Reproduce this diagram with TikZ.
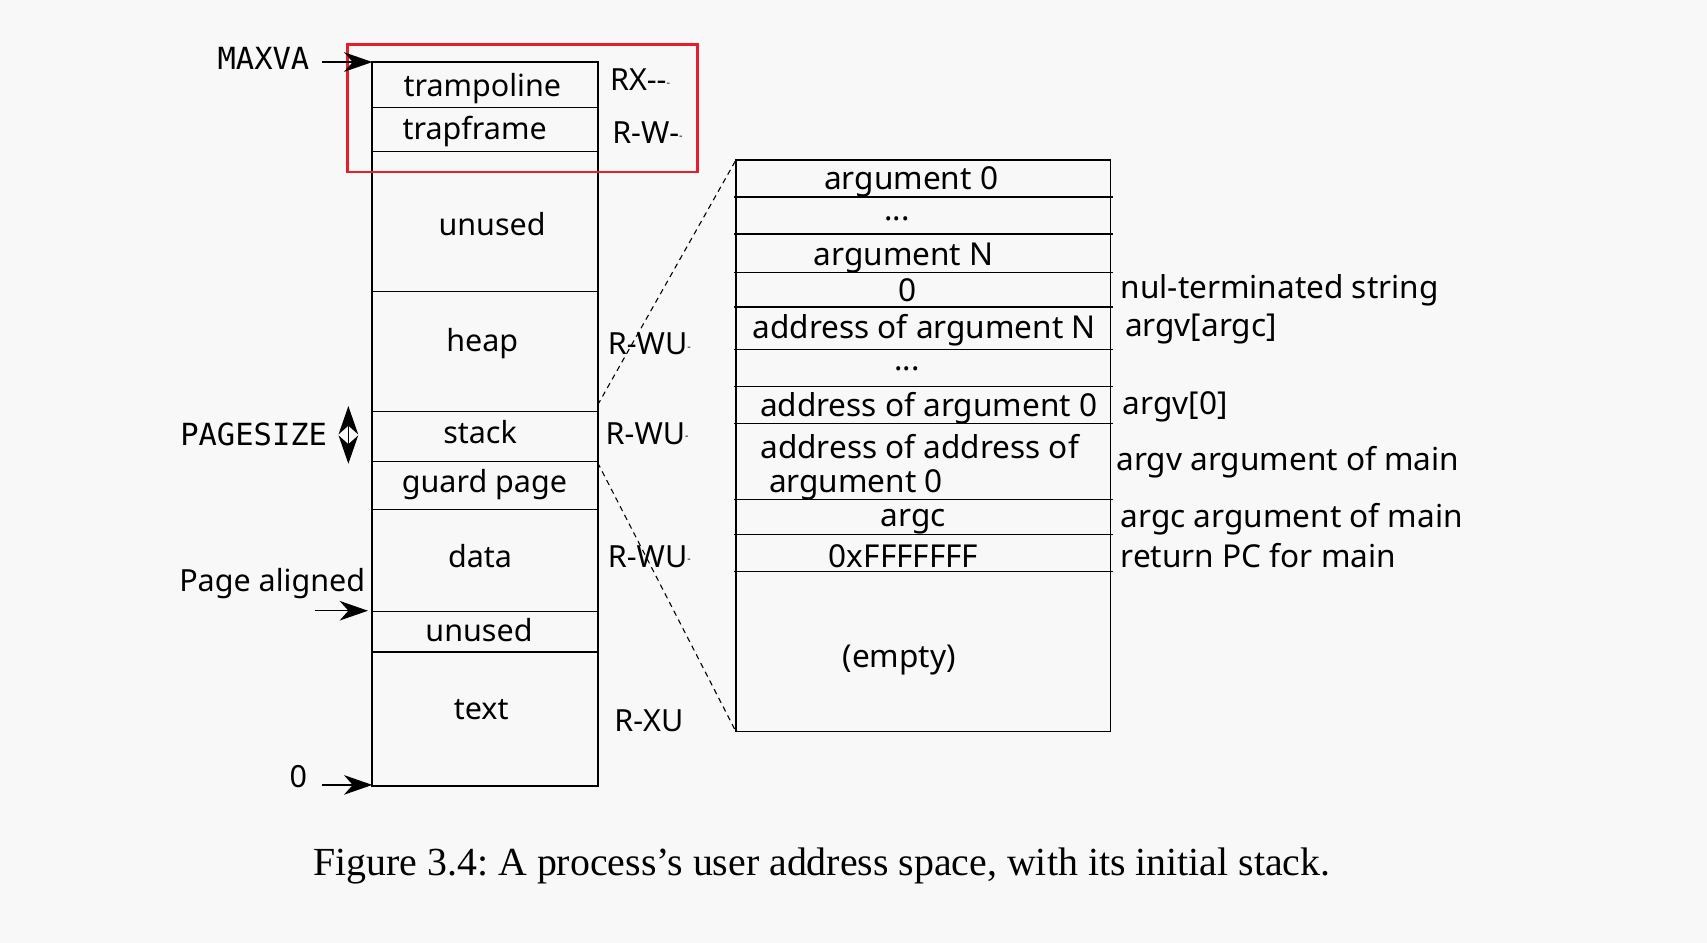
\documentclass[tikz,border=0pt]{standalone}
\usepackage{fontspec}
\setmainfont{Noto Sans}
\newfontfamily\monof{DejaVu Sans Mono}
\newfontfamily\capf{Liberation Serif}
\usetikzlibrary{arrows.meta}
\definecolor{bg}{RGB}{248,248,248}
\definecolor{redbox}{RGB}{230,30,40}
\newcommand{\tdash}{\raisebox{0.25ex}{\scalebox{0.35}{-}}}
\tikzset{
  lbl/.style={inner sep=0pt, anchor=center},
  lft/.style={inner sep=0pt, anchor=west},
  rfont/.style={font=\fontsize{14.5}{17}\selectfont},
  outer/.style={line width=1pt},
  inner/.style={line width=0.6pt},
  ahead/.tip={Stealth[length=13pt,width=9pt,inset=4pt]},
  ptr/.style={line width=0.7pt, -ahead},
  dbl/.style={line width=0.7pt, ahead-ahead},
  zoomline/.style={line width=0.5pt, dash pattern=on 2.5pt off 2pt}
}
\begin{document}
\begin{tikzpicture}[x=0.5pt,y=-0.5pt,font=\fontsize{14}{17}\selectfont]
\path[fill=bg] (0,0) rectangle (1568,866);
% left column
\draw[outer] (342,57) rectangle (549,722);
\foreach \yy in {99,139,268,378,424,468,562,599}{\draw[inner] (342,\yy) -- (549,\yy);}
\node[lbl] (tramp) at (443,81) {trampoline};
\node[lbl] (trapf) at (436,121) {trapframe};
\node[lbl] (unused1) at (452,206) {unused};
\node[lbl] (heap) at (443,316) {heap};
\node[lbl] (stack) at (441,397) {stack};
\node[lbl] (guard) at (445,445) {guard page};
\node[lbl] (data) at (441,511) {data};
\node[lbl] (unused2) at (440,579) {unused};
\node[lbl] (text) at (442,652) {text};
% permissions
\node[lft] (p1) at (560,73) {RX-{}-\tdash};
\node[lft] (p2) at (562,122) {R-W-\tdash};
\node[lft] (p3) at (558,316) {R-WU\tdash};
\node[lft] (p4) at (556,398) {R-WU\tdash};
\node[lft] (p5) at (558,511) {R-WU\tdash};
\node[lft] (p6) at (564,662) {R-XU};
% red box
\draw[redbox, line width=1.3pt] (319,41) rectangle (641,158);
% left labels and arrows
\node[lbl, font=\monof\fontsize{14}{17}\selectfont] (maxva) at (242,54) {MAXVA};
\coordinate (maxvaS) at (296,57);
\coordinate (maxvaE) at (342,57);
\draw[ptr] (maxvaS) -- (maxvaE);
\node[lbl, font=\monof\fontsize{14}{17}\selectfont] (pgsz) at (233,399) {PAGESIZE};
\coordinate (pgA) at (320,373);
\coordinate (pgB) at (320,426);
\draw[dbl] (pgA) -- (pgB);
\node[lbl] (pal) at (250,536) {Page aligned};
\coordinate (palS) at (289,561);
\coordinate (palE) at (338,561);
\draw[ptr] (palS) -- (palE);
\node[lbl] (zero) at (274,713) {0};
\coordinate (zeroS) at (296,721);
\coordinate (zeroE) at (342,721);
\draw[ptr] (zeroS) -- (zeroE);
% right box
\draw[inner, line width=0.8pt] (676,147) rectangle (1020,672);
\foreach \yy in {181,215,250,282,321,355,389,459,491,525}{\draw[inner] (674,\yy) -- (1022,\yy);}
\begin{scope}[rfont]
\node[lbl] (a0) at (837,167) {argument 0};
\node[lbl] (d1) at (824,201) {...};
\node[lbl] (aN) at (830,237) {argument N};
\node[lbl] (z0) at (834,267) {0};
\node[lbl] (adN) at (849,303) {address of argument N};
\node[lbl] (d2) at (833,339) {...};
\node[lbl] (ad0) at (853,375) {address of argument 0};
\node[lft] (aad1) at (698,410) {address of address of};
\node[lft] (aad2) at (706,445) {argument 0};
\node[lbl] (argc) at (839,479) {argc};
\node[lbl] (ret) at (830,511) {0xFFFFFFF};
\node[lbl] (empty) at (826,606) {(empty)};
% right annotations
\node[lft] (r1) at (1029,267) {nul-terminated string};
\node[lft] (r2) at (1033,302) {argv[argc]};
\node[lft] (r3) at (1031,374) {argv[0]};
\node[lft] (r4) at (1025,425) {argv argument of main};
\node[lft] (r5) at (1029,477) {argc argument of main};
\node[lft] (r6) at (1029,510) {return PC for main};
\end{scope}
% zoom lines
\coordinate (zt1) at (549,372);
\coordinate (zt2) at (676,147);
\coordinate (zb1) at (549,425);
\coordinate (zb2) at (676,672);
\draw[zoomline] (zt1) -- (zt2);
\draw[zoomline] (zb1) -- (zb2);
% caption
\node[inner sep=0pt, anchor=base, font=\capf\fontsize{18.3}{22}\selectfont] (cap) at (755,804) {\frenchspacing Figure 3.4: A process’s user address space, with its initial stack.};
\end{tikzpicture}
\end{document}
